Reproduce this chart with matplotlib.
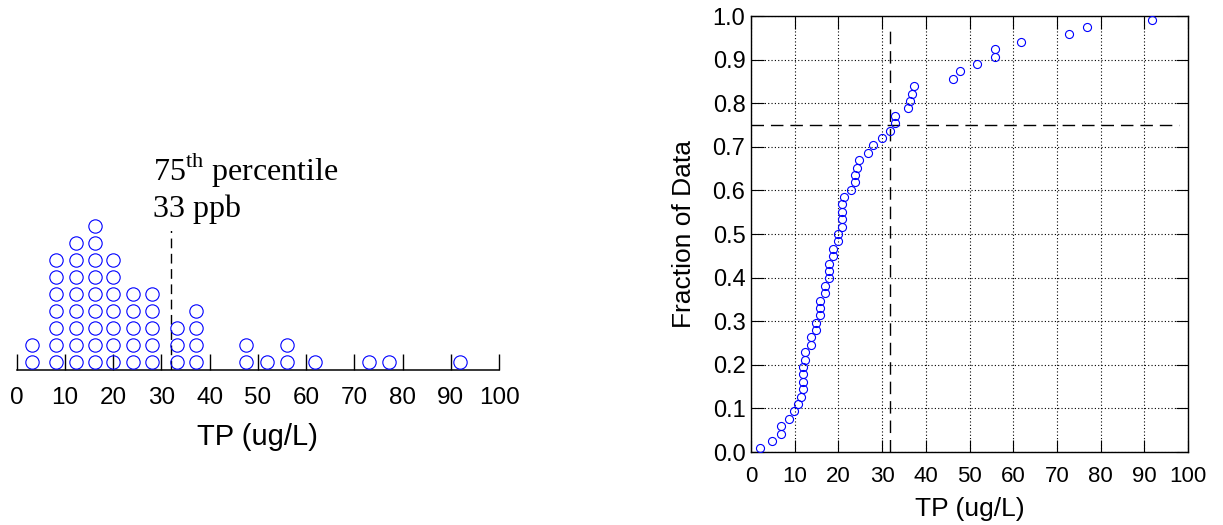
import numpy as np
import matplotlib
matplotlib.use("Agg")
import matplotlib.pyplot as plt

plt.rcParams['font.family'] = ['Liberation Sans', 'DejaVu Sans']
plt.rcParams['mathtext.fontset'] = 'custom'
plt.rcParams['mathtext.rm'] = 'Liberation Serif'

# dot plot columns (bin centre, number of dots)
dot_x = [3.2, 8.1, 12.2, 16.2, 20.0, 24.1, 28.1, 33.2, 37.2, 47.5, 51.8, 56.0, 61.9, 73.1, 77.1, 91.9]
dot_n = [2, 7, 8, 9, 7, 5, 5, 3, 4, 2, 1, 2, 1, 1, 1, 1]

# sorted TP values for the cumulative plot
tp = [2.1, 4.9, 6.8, 6.8, 8.8, 9.8, 10.8, 11.4, 11.8, 11.8, 11.8, 11.8, 12.4, 12.4,
      13.8, 13.8, 14.8, 14.8, 15.8, 15.8, 15.8, 16.9, 16.9, 17.8, 17.8, 17.8, 18.8, 18.8,
      19.8, 19.8, 20.9, 20.9, 20.9, 20.9, 21.3, 22.8, 23.8, 23.8, 24.3, 24.8, 26.8, 27.8,
      29.9, 31.9, 32.9, 32.9, 35.9, 36.3, 36.8, 37.3, 46.3, 47.8, 51.8, 55.8, 55.8, 61.8,
      72.8, 76.8, 91.8]
p75 = 31.9
ticks_x = [0, 10, 20, 30, 40, 50, 60, 70, 80, 90, 100]
ticks_y = [0.0, 0.1, 0.2, 0.3, 0.4, 0.5, 0.6, 0.7, 0.8, 0.9, 1.0]

fig = plt.figure(figsize=(12.23, 5.25), dpi=100)

# ---- left: dot plot
ax1 = fig.add_axes([0.01366, 0.2952, 0.3944, 0.3886])
xs, ys = [], []
for x, n in zip(dot_x, dot_n):
    for k in range(n):
        xs.append(x)
        ys.append(0.45 + k)
ax1.plot(xs, ys, 'o', ms=9.6, mfc='none', mec='blue', mew=0.8, clip_on=False, zorder=3)
ax1.plot([p75, p75], [0, 13.5], color='black', lw=1.0, dashes=(7, 4), zorder=2)
ax1.text(28.2, 11.18, r'75$^{\mathrm{th}}$ percentile', family='Liberation Serif', fontsize=23,
         va='baseline', ha='left', zorder=4,
         bbox=dict(facecolor='white', edgecolor='none', pad=2))
ax1.text(28.2, 9.02, '33 ppb', family='Liberation Serif', fontsize=23,
         va='baseline', ha='left', zorder=4,
         bbox=dict(facecolor='white', edgecolor='none', pad=5))
ax1.set_xlim(0, 100)
ax1.set_ylim(0, 12)
for s in ['top', 'left', 'right']:
    ax1.spines[s].set_visible(False)
ax1.spines['bottom'].set_linewidth(1.1)
ax1.set_xticks(ticks_x)
ax1.set_yticks([])
ax1.tick_params(axis='x', direction='in', length=11.5, width=1.0, pad=12, labelsize=17.5)
ax1.set_xlabel('TP (ug/L)', fontsize=21, labelpad=10)
ax1.patch.set_visible(False)

# ---- right: cumulative fraction
n = len(tp)
frac = (np.arange(1, n + 1) - 0.5) / n
ax2 = fig.add_axes([0.6141, 0.139, 0.3573, 0.8305])
ax2.plot(tp, frac, 'o', ms=5.8, mfc='none', mec='blue', mew=0.8, zorder=3)
ax2.plot([p75, p75], [0, 0.98], color='black', lw=1.0, dashes=(9, 5), zorder=2)
ax2.plot([0, 98], [0.75, 0.75], color='black', lw=1.0, dashes=(9, 5), zorder=2)
ax2.set_xlim(0, 100)
ax2.set_ylim(0, 1)
ax2.set_xticks(ticks_x)
ax2.set_yticks(ticks_y)
ax2.set_yticklabels([f'{v:.1f}' for v in ticks_y])
ax2.grid(True, color='black', linestyle=(0, (1, 2)), linewidth=0.8)
ax2.tick_params(direction='in', length=9, width=0.8, top=True, right=True)
ax2.tick_params(axis='x', labelsize=16, pad=10)
ax2.tick_params(axis='y', labelsize=17, pad=4)
for s in ax2.spines.values():
    s.set_linewidth(1.0)
ax2.set_xlabel('TP (ug/L)', fontsize=19, labelpad=7)
ax2.set_ylabel('Fraction of Data', fontsize=19, labelpad=12)

fig.savefig('out.png', dpi=100)
